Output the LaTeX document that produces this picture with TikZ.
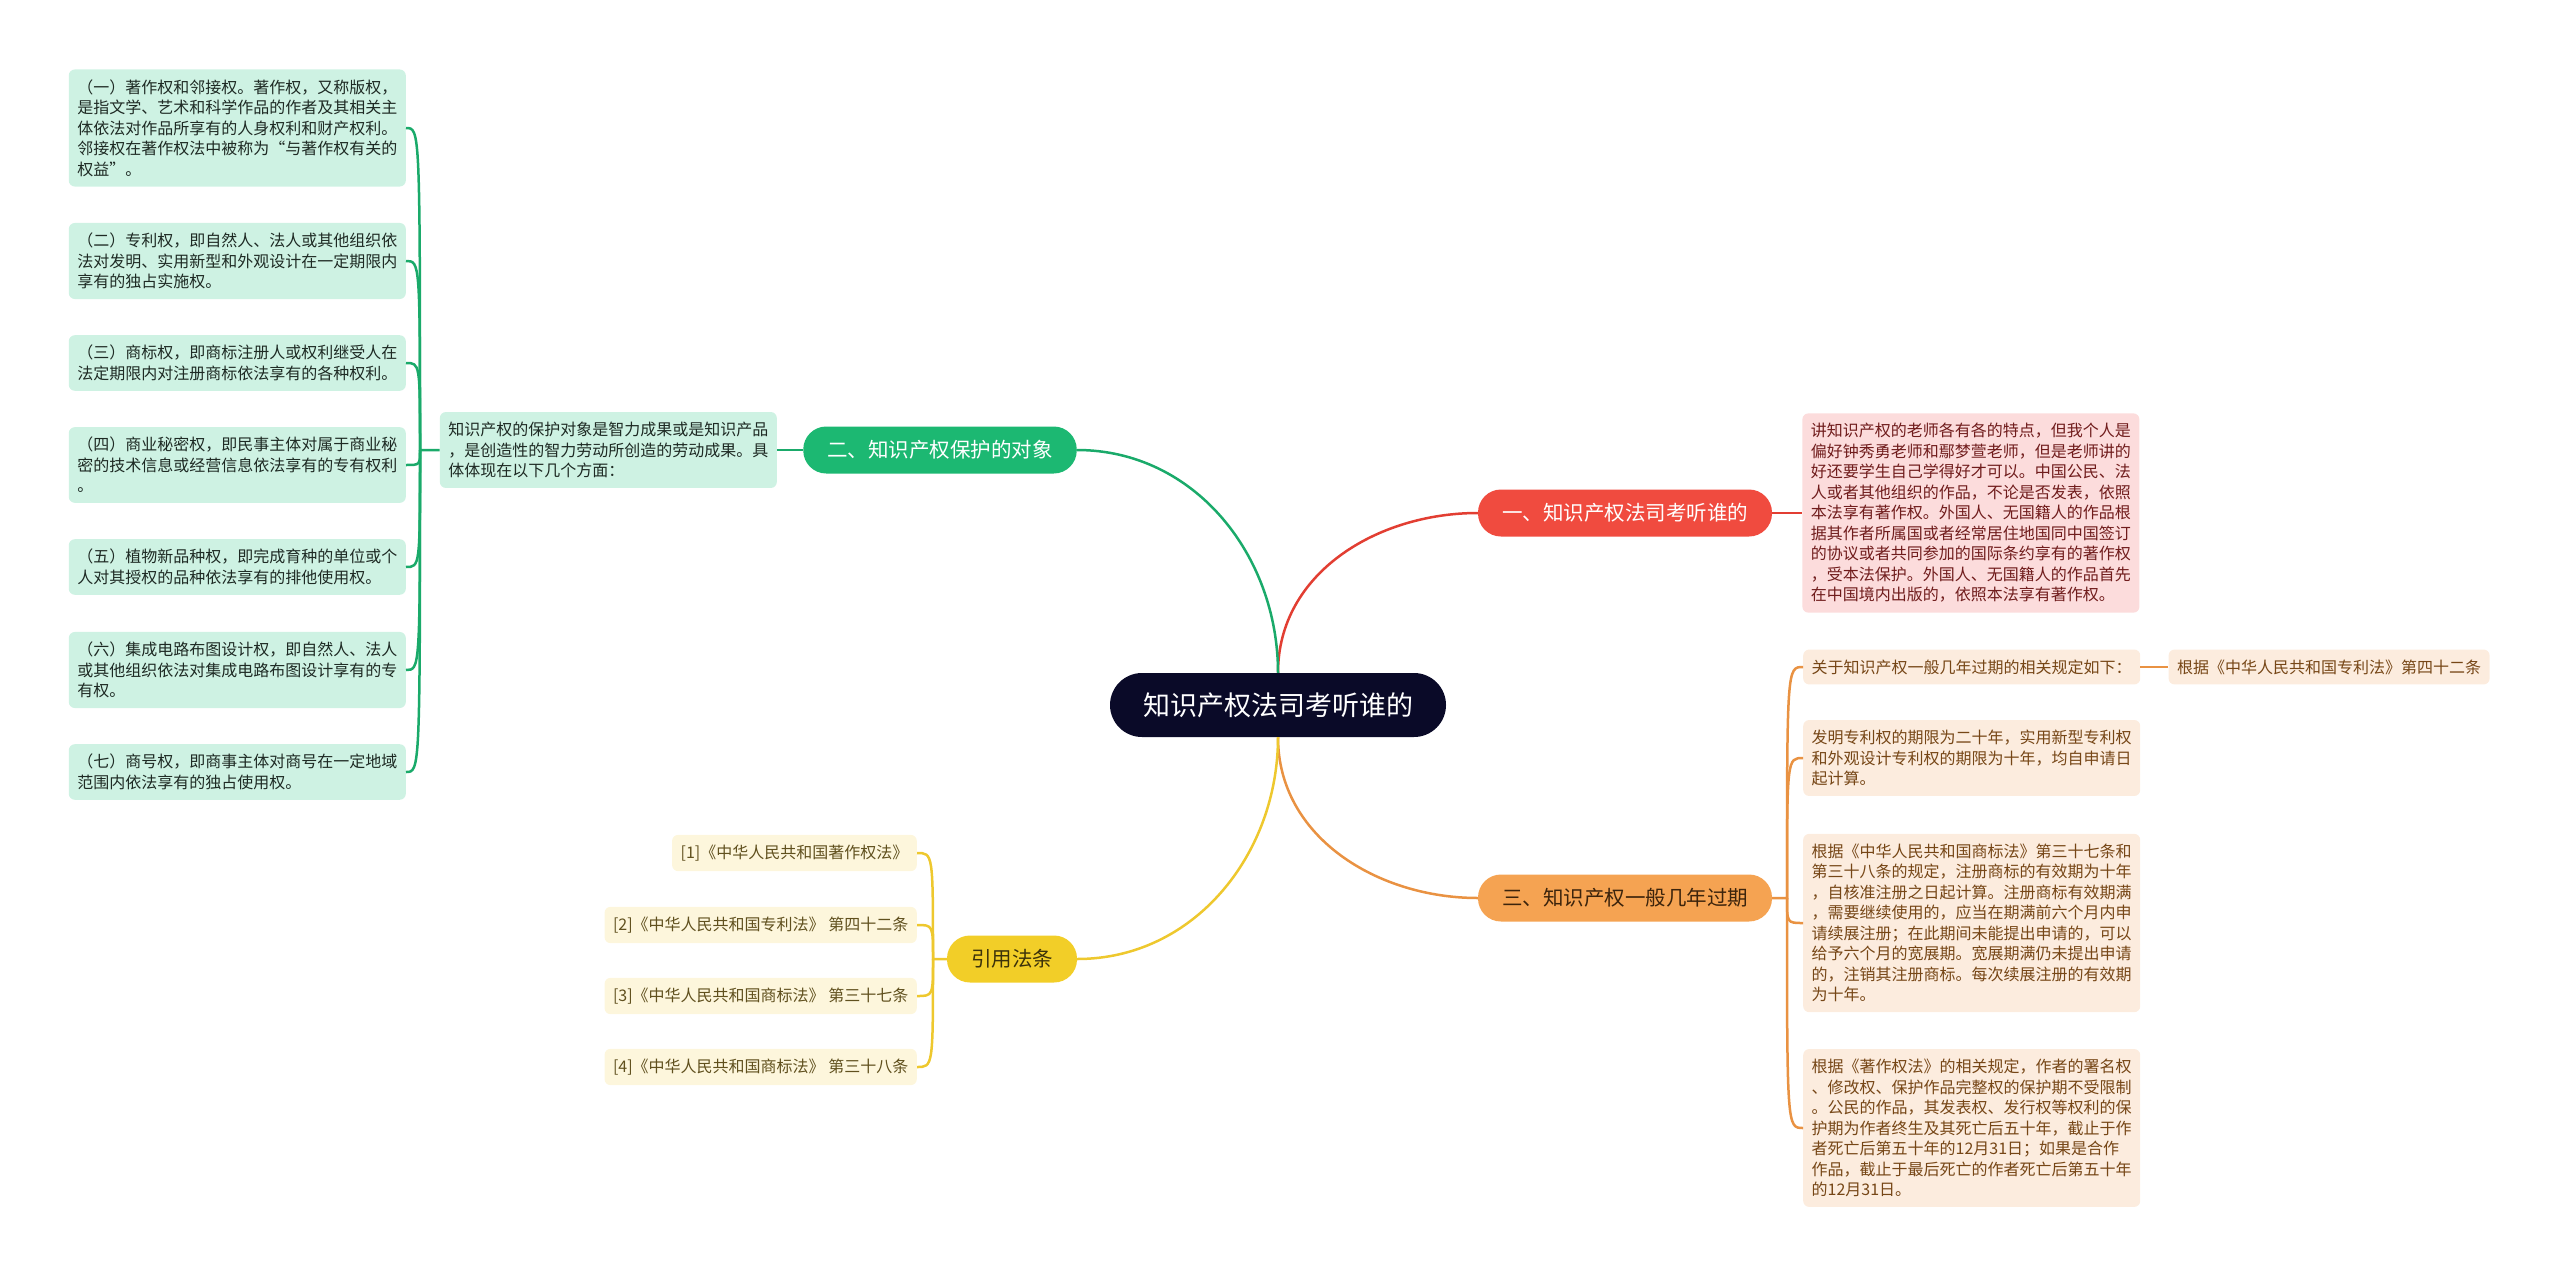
\documentclass[tikz,border=0pt]{standalone}
\usepackage{fontspec}
\setmainfont{Noto Sans CJK SC}
\usetikzlibrary{positioning}

\definecolor{rootbg}{RGB}{10,10,40}
\definecolor{redbg}{RGB}{240,75,63}
\definecolor{redln}{RGB}{226,62,50}
\definecolor{redleafbg}{RGB}{252,220,220}
\definecolor{redleaftx}{RGB}{112,28,28}
\definecolor{orangebg}{RGB}{245,163,82}
\definecolor{orangetx}{RGB}{60,36,12}
\definecolor{orangeln}{RGB}{233,146,66}
\definecolor{orangeleafbg}{RGB}{252,236,222}
\definecolor{orangeleaftx}{RGB}{118,70,22}
\definecolor{greenbg}{RGB}{28,184,114}
\definecolor{greenln}{RGB}{26,170,106}
\definecolor{greenleafbg}{RGB}{206,242,227}
\definecolor{greenleaftx}{RGB}{30,42,36}
\definecolor{yellowbg}{RGB}{242,206,40}
\definecolor{yellowtx}{RGB}{60,50,10}
\definecolor{yellowln}{RGB}{238,200,46}
\definecolor{yellowleafbg}{RGB}{253,246,220}
\definecolor{yellowleaftx}{RGB}{96,80,30}

\begin{document}
\begin{tikzpicture}[x=1pt,y=-1pt,node distance=30pt,
   root/.style={fill=rootbg,text=white,rounded corners=32pt,minimum height=64pt,
      inner xsep=33pt,font=\fontsize{27}{32}\selectfont},
   branch/.style={rounded corners=23pt,minimum height=47pt,inner xsep=24pt,
      font=\fontsize{20.5}{24}\selectfont},
   leaf/.style={rounded corners=6pt,inner xsep=8.5pt,inner ysep=10pt,align=left,
      font=\fontsize{16}{20.5}\selectfont},
   redleaf/.style={leaf,fill=redleafbg,text=redleaftx},
   orangeleaf/.style={leaf,fill=orangeleafbg,text=orangeleaftx},
   greenleaf/.style={leaf,fill=greenleafbg,text=greenleaftx},
   yellowleaf/.style={leaf,fill=yellowleafbg,text=yellowleaftx},
   redline/.style={draw=redln,line width=2.5pt},
   orangeline/.style={draw=orangeln,line width=2.5pt},
   greenline/.style={draw=greenln,line width=2.5pt},
   yellowline/.style={draw=yellowln,line width=2.5pt}]
   \useasboundingbox (0,0) rectangle (2560,1277);

   \node[root] (root) at (1278,705) {知识产权法司考听谁的};

   \node[branch,fill=redbg,text=white] (b1) at (1625,513) {一、知识产权法司考听谁的};
   \node[branch,fill=greenbg,text=white] (b2) at (940,450) {二、知识产权保护的对象};
   \node[branch,fill=orangebg,text=orangetx] (b3) at (1625,898) {三、知识产权一般几年过期};
   \node[branch,fill=yellowbg,text=yellowtx] (b4) at (1012,959) {引用法条};

   % 一
   \node[redleaf] (r1) [right=of b1] {讲知识产权的老师各有各的特点，但我个人是\\
      偏好钟秀勇老师和鄢梦萱老师，但是老师讲的\\
      好还要学生自己学得好才可以。中国公民、法\\
      人或者其他组织的作品，不论是否发表，依照\\
      本法享有著作权。外国人、无国籍人的作品根\\
      据其作者所属国或者经常居住地国同中国签订\\
      的协议或者共同参加的国际条约享有的著作权\\
      ，受本法保护。外国人、无国籍人的作品首先\\
      在中国境内出版的，依照本法享有著作权。};

   % 二
   \node[greenleaf] (g0) [left=26pt of b2] {知识产权的保护对象是智力成果或是知识产品\\
      ，是创造性的智力劳动所创造的劳动成果。具\\
      体体现在以下几个方面：};
   \node[greenleaf,anchor=east] (g1) at (406,128) {（一）著作权和邻接权。著作权，又称版权，\\
      是指文学、艺术和科学作品的作者及其相关主\\
      体依法对作品所享有的人身权利和财产权利。\\
      邻接权在著作权法中被称为“与著作权有关的\\
      权益”。};
   \node[greenleaf,anchor=east] (g2) at (406,261) {（二）专利权，即自然人、法人或其他组织依\\
      法对发明、实用新型和外观设计在一定期限内\\
      享有的独占实施权。};
   \node[greenleaf,anchor=east] (g3) at (406,363) {（三）商标权，即商标注册人或权利继受人在\\
      法定期限内对注册商标依法享有的各种权利。};
   \node[greenleaf,anchor=east] (g4) at (406,465) {（四）商业秘密权，即民事主体对属于商业秘\\
      密的技术信息或经营信息依法享有的专有权利\\
      。};
   \node[greenleaf,anchor=east] (g5) at (406,567) {（五）植物新品种权，即完成育种的单位或个\\
      人对其授权的品种依法享有的排他使用权。};
   \node[greenleaf,anchor=east] (g6) at (406,670) {（六）集成电路布图设计权，即自然人、法人\\
      或其他组织依法对集成电路布图设计享有的专\\
      有权。};
   \node[greenleaf,anchor=east] (g7) at (406,772) {（七）商号权，即商事主体对商号在一定地域\\
      范围内依法享有的独占使用权。};

   % 三
   \node[orangeleaf,anchor=west] (o1) at (1803,667) {关于知识产权一般几年过期的相关规定如下：};
   \node[orangeleaf] (o1k) [right=28pt of o1] {根据《中华人民共和国专利法》第四十二条};
   \node[orangeleaf,anchor=west] (o2) at (1803,758) {发明专利权的期限为二十年，实用新型专利权\\
      和外观设计专利权的期限为十年，均自申请日\\
      起计算。};
   \node[orangeleaf,anchor=west] (o3) at (1803,923) {根据《中华人民共和国商标法》第三十七条和\\
      第三十八条的规定，注册商标的有效期为十年\\
      ，自核准注册之日起计算。注册商标有效期满\\
      ，需要继续使用的，应当在期满前六个月内申\\
      请续展注册；在此期间未能提出申请的，可以\\
      给予六个月的宽展期。宽展期满仍未提出申请\\
      的，注销其注册商标。每次续展注册的有效期\\
      为十年。};
   \node[orangeleaf,anchor=west] (o4) at (1803,1128) {根据《著作权法》的相关规定，作者的署名权\\
      、修改权、保护作品完整权的保护期不受限制\\
      。公民的作品，其发表权、发行权等权利的保\\
      护期为作者终生及其死亡后五十年，截止于作\\
      者死亡后第五十年的12月31日；如果是合作\\
      作品，截止于最后死亡的作者死亡后第五十年\\
      的12月31日。};

   % 引用法条
   \node[yellowleaf,anchor=east] (y1) at (917,853) {[1]《中华人民共和国著作权法》};
   \node[yellowleaf,anchor=east] (y2) at (917,925) {[2]《中华人民共和国专利法》 第四十二条};
   \node[yellowleaf,anchor=east] (y3) at (917,996) {[3]《中华人民共和国商标法》 第三十七条};
   \node[yellowleaf,anchor=east] (y4) at (917,1067) {[4]《中华人民共和国商标法》 第三十八条};

   \coordinate (gbus) at (420,450);
   \coordinate (obus) at (1787,898);
   \coordinate (ybus) at (933,959);

   % root to branches
   \draw[redline] (root.north) to[out=90,in=180] (b1.west);
   \draw[greenline] (root.north) to[out=90,in=0] (b2.east);
   \draw[orangeline] (root.south) to[out=-90,in=180] (b3.west);
   \draw[yellowline] (root.south) to[out=-90,in=0] (b4.east);

   \path[redline] (b1) edge (r1);
   \path[greenline] (b2) edge (g0);
   \path[orangeline] (o1) edge (o1k);

   \draw[greenline] (g0.west) -- (gbus) .. controls (gbus |- g1.east) .. (g1.east);
   \draw[greenline] (gbus) .. controls (gbus |- g2.east) .. (g2.east);
   \draw[greenline] (gbus) .. controls (gbus |- g3.east) .. (g3.east);
   \draw[greenline] (gbus) .. controls (gbus |- g4.east) .. (g4.east);
   \draw[greenline] (gbus) .. controls (gbus |- g5.east) .. (g5.east);
   \draw[greenline] (gbus) .. controls (gbus |- g6.east) .. (g6.east);
   \draw[greenline] (gbus) .. controls (gbus |- g7.east) .. (g7.east);

   \draw[orangeline] (b3.east) -- (obus) .. controls (obus |- o1.west) .. (o1.west);
   \draw[orangeline] (obus) .. controls (obus |- o2.west) .. (o2.west);
   \draw[orangeline] (obus) .. controls (obus |- o3.west) .. (o3.west);
   \draw[orangeline] (obus) .. controls (obus |- o4.west) .. (o4.west);

   \draw[yellowline] (b4.west) -- (ybus) .. controls (ybus |- y1.east) .. (y1.east);
   \draw[yellowline] (ybus) .. controls (ybus |- y2.east) .. (y2.east);
   \draw[yellowline] (ybus) .. controls (ybus |- y3.east) .. (y3.east);
   \draw[yellowline] (ybus) .. controls (ybus |- y4.east) .. (y4.east);
\end{tikzpicture}
\end{document}
